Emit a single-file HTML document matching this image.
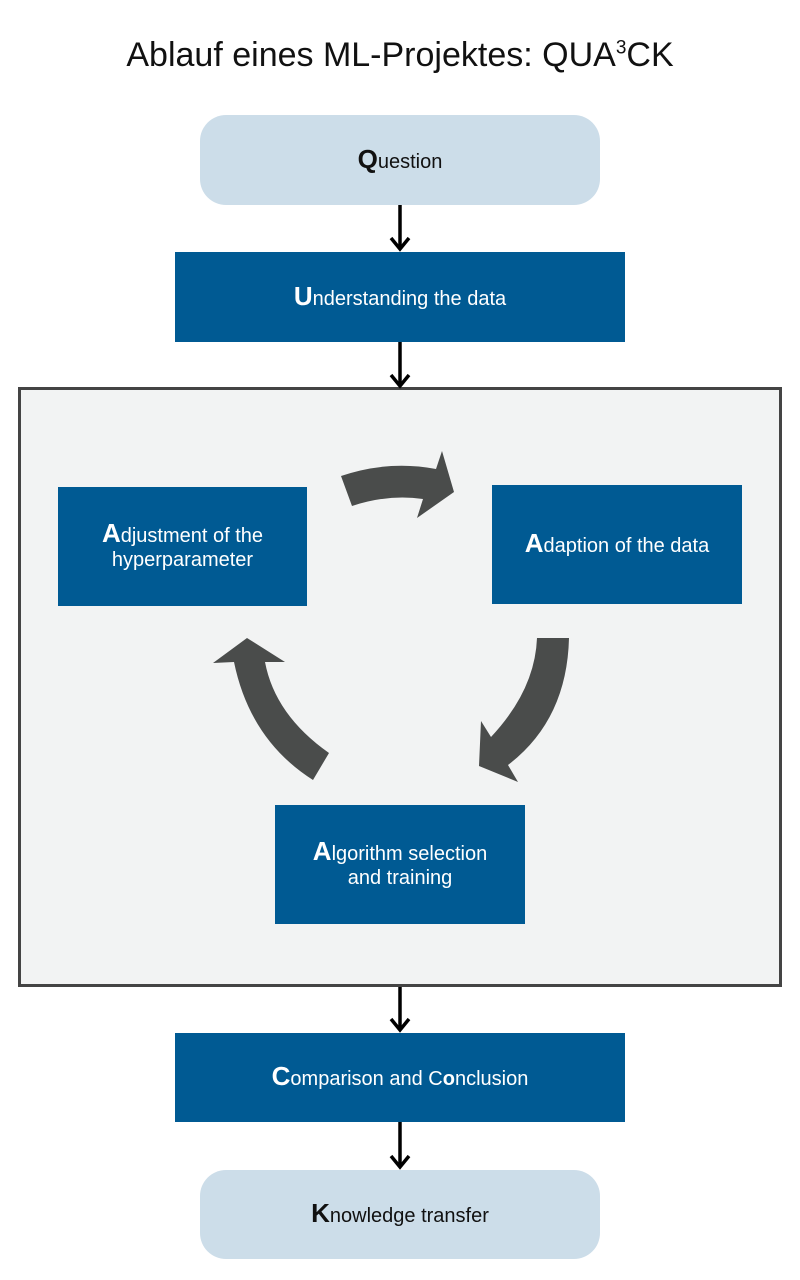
<!DOCTYPE html>
<html><head><meta charset="utf-8"><style>
html,body{margin:0;padding:0;background:#fff;}
body{width:800px;height:1280px;position:relative;font-family:"Liberation Sans",sans-serif;overflow:hidden;}
.t{position:absolute;left:0;width:800px;top:36px;text-align:center;font-size:34px;color:#111;}
.b{position:absolute;display:flex;align-items:center;justify-content:center;text-align:center;color:#fff;font-size:20px;line-height:24px;box-sizing:border-box;}
.d{background:#005a93;}
.l{background:#ccdde9;color:#111;border-radius:26px;}
.b b{font-size:26px;}
.frame{position:absolute;left:18px;top:387px;width:764px;height:600px;box-sizing:border-box;border:3px solid #444;background:#f2f3f3;}
svg{position:absolute;left:0;top:0;}
</style></head><body>
<div class="t">Ablauf eines ML-Projektes: QUA<sup style="font-size:19px">3</sup>CK</div>
<div class="frame"></div>
<div class="b l" style="left:200px;top:115px;width:400px;height:90px;"><span><b>Q</b>uestion</span></div>
<div class="b d" style="left:175px;top:252px;width:450px;height:90px;"><span><b>U</b>nderstanding the data</span></div>
<div class="b d" style="left:58px;top:487px;width:249px;height:119px;"><span><b>A</b>djustment of the<br>hyperparameter</span></div>
<div class="b d" style="left:492px;top:485px;width:250px;height:119px;"><span><b>A</b>daption of the data</span></div>
<div class="b d" style="left:275px;top:805px;width:250px;height:119px;"><span><b>A</b>lgorithm selection<br>and training</span></div>
<div class="b d" style="left:175px;top:1033px;width:450px;height:89px;"><span><b>C</b>omparison and C<b style="font-size:20px">o</b>nclusion</span></div>
<div class="b l" style="left:200px;top:1170px;width:400px;height:89px;"><span><b>K</b>nowledge transfer</span></div>
<svg width="800" height="1280" viewBox="0 0 800 1280">
<g stroke="#000" stroke-width="3.5" fill="none">
<line x1="400" y1="205" x2="400" y2="248"/><polyline points="391,238 400,249 409,238"/>
<line x1="400" y1="342" x2="400" y2="385"/><polyline points="391,375 400,386 409,375"/>
<line x1="400" y1="987" x2="400" y2="1029"/><polyline points="391,1019 400,1030 409,1019"/>
<line x1="400" y1="1122" x2="400" y2="1166"/><polyline points="391,1156 400,1167 409,1156"/>
</g>
<g fill="#4a4c4b">
<path d="M341,476 Q388,460 436,469 L442,451 L454,492 L417,518 L423,499 Q388,494 352,506 Z"/>
<path d="M537,638 L569,638 Q567,720 508,765 L518,782 L479,766 L481,721 L491,737 Q535,690 537,638 Z"/>
<path d="M329,753 Q275,715 265,662 L285,662 L247,638 L213,663 L234,662 Q250,740 313,780 Z"/>
</g>
</svg>
</body></html>
